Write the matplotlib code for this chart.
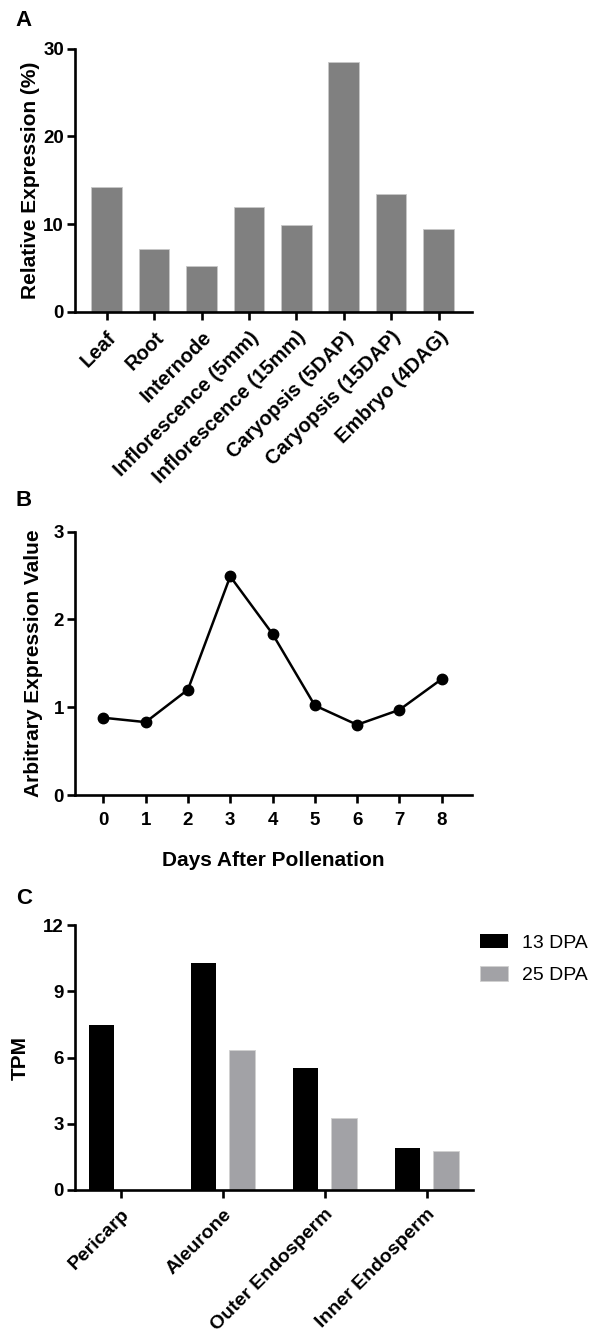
import matplotlib
matplotlib.use("Agg")
import matplotlib.pyplot as plt
import matplotlib.transforms as mtransforms
import numpy as np

plt.rcParams['font.family'] = ['Liberation Sans', 'DejaVu Sans']

# panel A
tissues = ["Leaf", "Root", "Internode", "Inflorescence (5mm)", "Inflorescence (15mm)",
           "Caryopsis (5DAP)", "Caryopsis (15DAP)", "Embryo (4DAG)"]
rel_expr = [14.2, 7.15, 5.2, 11.9, 9.9, 28.45, 13.4, 9.4]

# panel B
days = [0, 1, 2, 3, 4, 5, 6, 7, 8]
arb_expr = [0.88, 0.83, 1.2, 2.49, 1.835, 1.02, 0.80, 0.97, 1.32]

# panel C
layers = ["Pericarp", "Aleurone", "Outer Endosperm", "Inner Endosperm"]
tpm_13 = [7.47, 10.3, 5.54, 1.9]
tpm_25 = [0.0, 6.33, 3.25, 1.78]
series_names = ["13 DPA", "25 DPA"]

W, H = 595, 1336
fig = plt.figure(figsize=(W / 100, H / 100), dpi=100)


def box(left, right, top, bottom):
    return [left / W, 1 - bottom / H, (right - left) / W, (bottom - top) / H]


def style(ax, xsize=13.5):
    for s in ["top", "right"]:
        ax.spines[s].set_visible(False)
    for s in ["left", "bottom"]:
        ax.spines[s].set_linewidth(1.9)
    ax.tick_params(width=1.9, length=5.5, labelsize=13.5)
    ax.tick_params(axis="y", pad=2.5)
    ax.tick_params(axis="x", labelsize=xsize)
    for lab in ax.get_xticklabels() + ax.get_yticklabels():
        lab.set_fontweight("bold")


def slant(ax, labels):
    ax.set_xticklabels(labels, rotation=45, ha="right", va="top", rotation_mode="anchor")
    ax.tick_params(axis="x", pad=6)
    shift = mtransforms.ScaledTranslation(4 / 100, 0, fig.dpi_scale_trans)
    for lab in ax.get_xticklabels():
        lab.set_transform(lab.get_transform() + shift)


axA = fig.add_axes(box(75, 471.7, 48.7, 311.7))
xa = np.arange(len(tissues))
axA.bar(xa, rel_expr, width=0.645, color="#808080", edgecolor="#c8c8c8", linewidth=0.6)
axA.set_xlim(-0.67, 7.70)
axA.set_ylim(0, 30)
axA.set_yticks([0, 10, 20, 30])
axA.set_xticks(xa)
slant(axA, tissues)
axA.set_ylabel("Relative Expression (%)", fontsize=15, fontweight="bold")
axA.yaxis.set_label_coords(-0.088, 0.5)
style(axA, 14.5)

axB = fig.add_axes(box(75, 471.7, 531.6, 795))
axB.plot(days, arb_expr, color="black", lw=1.8, marker="o", ms=7.5)
axB.set_xlim(-0.67, 8.71)
axB.set_ylim(0, 3)
axB.set_yticks([0, 1, 2, 3])
axB.set_xticks(days)
axB.set_ylabel("Arbitrary Expression Value", fontsize=15, fontweight="bold")
axB.yaxis.set_label_coords(-0.081, 0.5)
axB.set_xlabel("Days After Pollenation", fontsize=15, fontweight="bold")
axB.xaxis.set_label_coords(0.5, -0.213)
style(axB)
axB.tick_params(axis="x", pad=6.5)

axC = fig.add_axes(box(75, 473.3, 925, 1190))
xc = np.arange(len(layers))
axC.bar(xc - 0.19, tpm_13, width=0.25, color="black", label=series_names[0])
axC.bar(xc + 0.19, tpm_25, width=0.25, color="#a2a2a6", edgecolor="#d0d0d0",
        linewidth=0.6, label=series_names[1])
axC.set_xlim(-0.448, 3.457)
axC.set_ylim(0, 12)
axC.set_yticks([0, 3, 6, 9, 12])
axC.set_xticks(xc)
slant(axC, layers)
axC.set_ylabel("TPM", fontsize=15, fontweight="bold")
axC.yaxis.set_label_coords(-0.113, 0.5)
style(axC, 14)
fig.legend(loc="upper left", bbox_to_anchor=(480 / W, 1 - 934 / H), frameon=False,
           fontsize=14, handlelength=1.45, handleheight=0.75, handletextpad=0.7,
           labelspacing=0.75, borderpad=0, borderaxespad=0)

for letter, (px, py) in zip("ABC", [(24, 21), (24, 500), (24, 898)]):
    fig.text(px / W, 1 - py / H, letter, fontsize=16, fontweight="bold", ha="center", va="center")

fig.savefig("out.png", dpi=100)
